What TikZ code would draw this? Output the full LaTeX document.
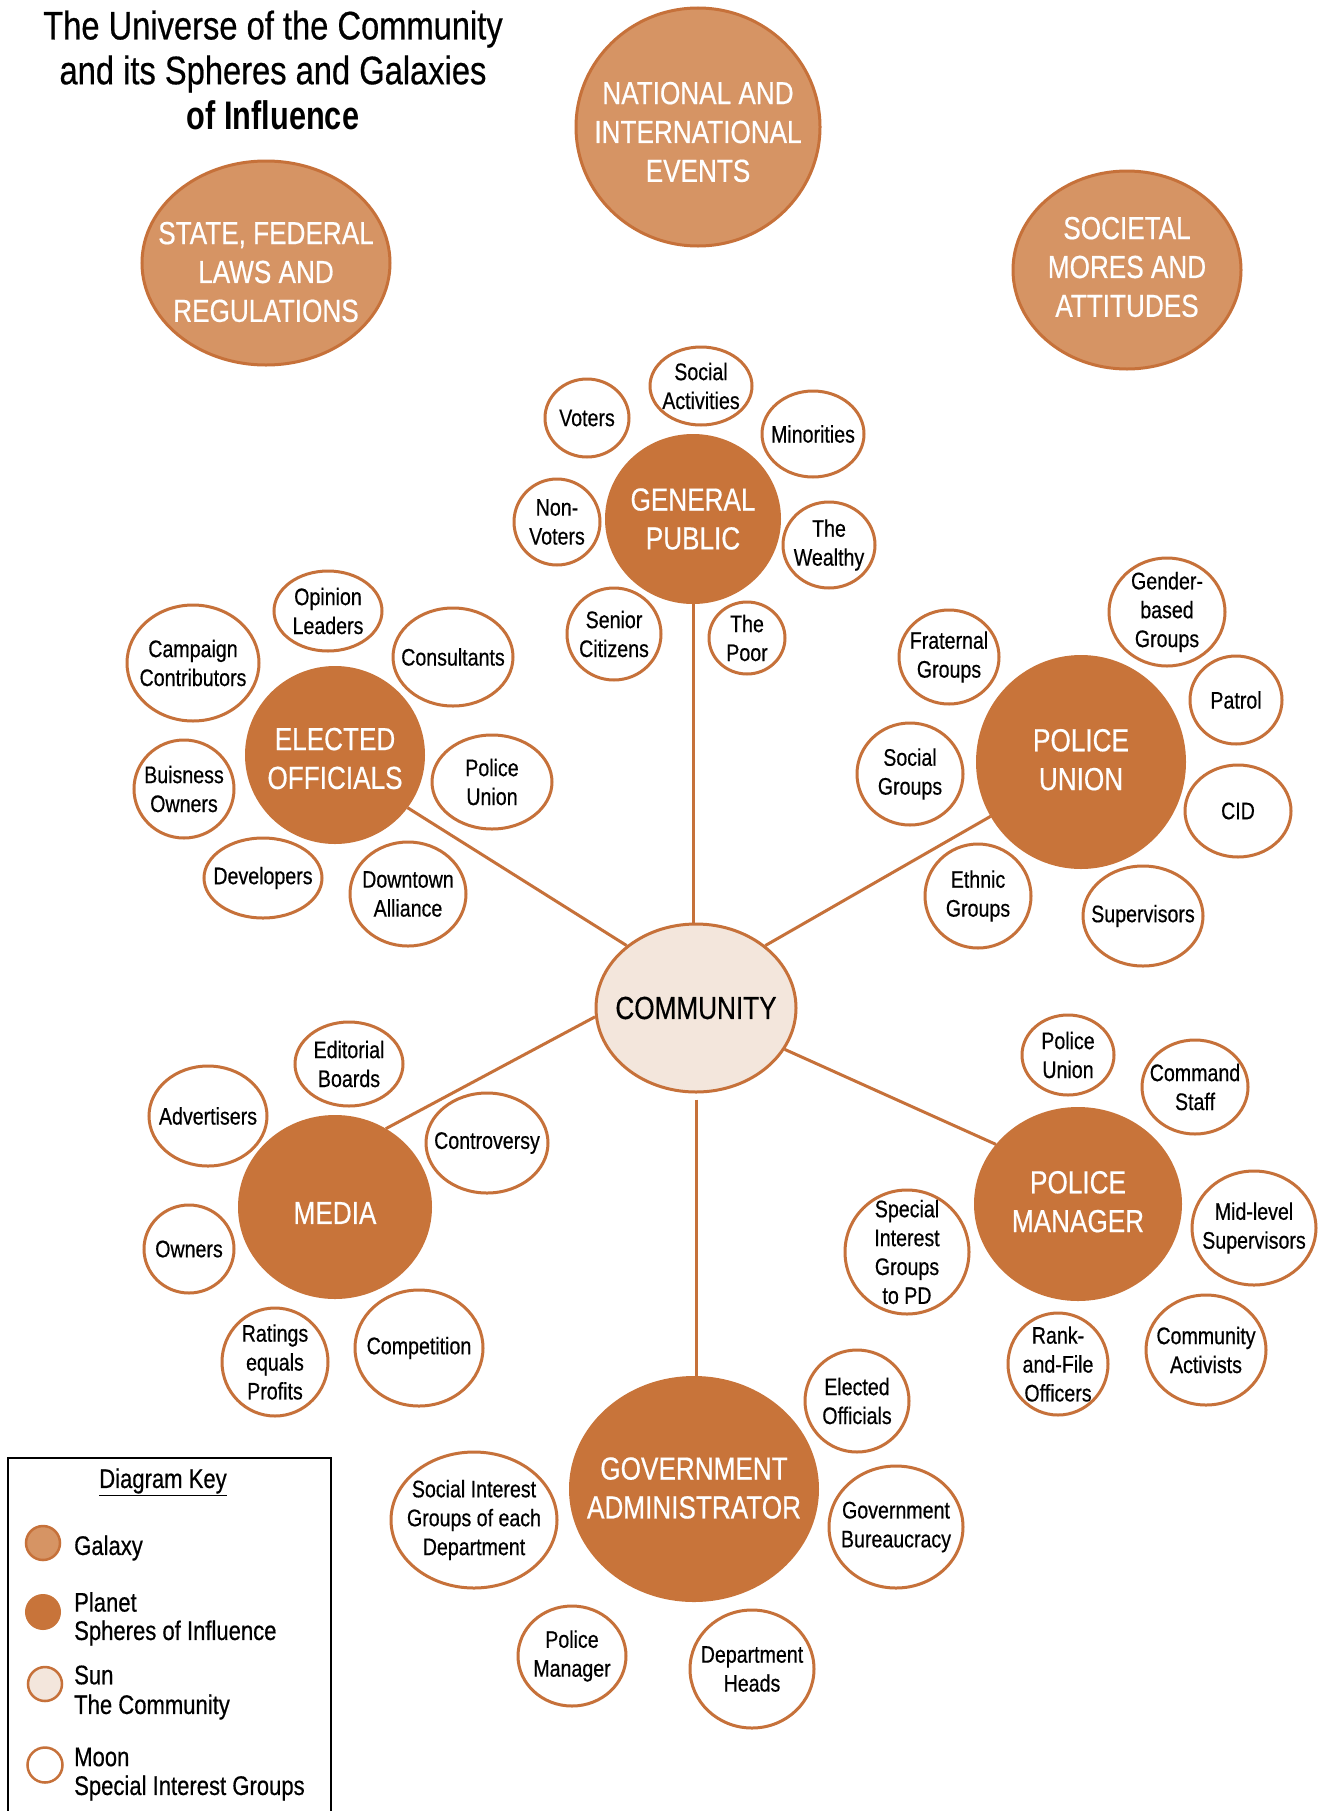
\documentclass[tikz,border=0pt]{standalone}
\usepackage{fontspec}
\setmainfont{Liberation Sans}[UprightFeatures={FakeStretch=0.82,FakeBold=0.5},BoldFeatures={FakeStretch=0.77}]
\usetikzlibrary{shapes.geometric}
\pgfdeclarelayer{bg}
\pgfsetlayers{bg,main}
\definecolor{planetc}{HTML}{C8743A}
\definecolor{galaxyc}{HTML}{D69464}
\definecolor{strokec}{HTML}{C6713A}
\definecolor{sunc}{HTML}{F3E6DC}
\newcommand{\mymoon}[6]{%
  \node[moonsty, minimum width=2*#4bp, minimum height=2*#5bp] (#1) at (#2,#3) {};
  \node[moontxt] at (#1) {#6};}
\newcommand{\myorb}[8][0]{%
  \node[#8, minimum width=2*#5bp, minimum height=2*#6bp] (#2) at (#3,#4) {};
  \node[#8txt, yshift=#1bp] at (#2) {#7};}
\begin{document}
\begin{tikzpicture}[x=1bp,y=-1bp,
  moonsty/.style={ellipse, draw=strokec, line width=3bp, fill=white, inner sep=0pt},
  moontxt/.style={align=center, font=\fontsize{24}{29}\selectfont, inner sep=0pt},
  planet/.style={ellipse, draw=planetc, line width=2bp, fill=planetc, inner sep=0pt},
  planettxt/.style={align=center, text=white, font=\fontsize{32}{39}\selectfont, inner sep=0pt},
  galaxy/.style={ellipse, draw=strokec, line width=3bp, fill=galaxyc, inner sep=0pt},
  galaxytxt/.style={align=center, text=white, font=\fontsize{32}{39}\selectfont, inner sep=0pt},
  sun/.style={ellipse, draw=strokec, line width=3bp, fill=sunc, inner sep=0pt},
  suntxt/.style={align=center, text=black, font=\fontsize{32}{38}\selectfont, inner sep=0pt},
  link/.style={draw=strokec, line width=3bp},
  keytxt/.style={anchor=west, font=\fontsize{27}{32}\selectfont, inner sep=0pt},
]
\useasboundingbox (0,0) rectangle (1319,1811);
\clip (0,0) rectangle (1319,1811);
\fill[white] (0,0) rectangle (1319,1811);

% title
\node[align=center, font=\fontsize{40}{45}\selectfont, inner sep=0pt] (title) at (273,70)
  {The Universe of the Community\\and its Spheres and Galaxies\\\textbf{of Influence}};

% galaxies
\myorb[-5]{nat}{698}{127}{122}{119}{NATIONAL AND\\INTERNATIONAL\\EVENTS}{galaxy}
\myorb[-9]{state}{266}{263}{124}{102}{STATE, FEDERAL\\LAWS AND\\REGULATIONS}{galaxy}
\myorb[3]{mores}{1127}{270}{114}{99}{SOCIETAL\\MORES AND\\ATTITUDES}{galaxy}

% sun
\myorb{comm}{696}{1008}{100}{84}{COMMUNITY}{sun}

% planets
\myorb{gp}{693}{519}{87}{84}{GENERAL\\PUBLIC}{planet}
\myorb[-3.5]{eo}{335}{755}{89}{88}{ELECTED\\OFFICIALS}{planet}
\myorb[2.3]{pu}{1081}{762}{104}{106}{POLICE\\UNION}{planet}
\myorb[-6]{media}{335}{1207}{96}{91}{MEDIA}{planet}
\myorb[2.3]{pm}{1078}{1204}{103}{96}{POLICE\\MANAGER}{planet}
\myorb[1]{ga}{694}{1489}{124}{112}{GOVERNMENT\\ADMINISTRATOR}{planet}

% moons: general public
\mymoon{voters}{587}{418}{42}{39}{Voters}
\mymoon{social}{701}{386}{51}{39}{Social\\Activities}
\mymoon{minor}{813}{434}{51}{43}{Minorities}
\mymoon{nonv}{557}{522}{43}{43}{Non-\\Voters}
\mymoon{wealthy}{829}{545}{46}{43}{The\\Wealthy}
\mymoon{senior}{614}{634}{47}{46}{Senior\\Citizens}
\mymoon{poor}{747}{638}{38}{36}{The\\Poor}

% moons: elected officials
\mymoon{opinion}{328}{611}{54}{40}{Opinion\\Leaders}
\mymoon{campaign}{193}{663}{66}{58}{Campaign\\Contributors}
\mymoon{consult}{453}{657}{60}{49}{Consultants}
\mymoon{buisness}{184}{789}{50}{49}{Buisness\\Owners}
\mymoon{eopu}{492}{782}{60}{47}{Police\\Union}
\mymoon{devel}{263}{878}{59}{40}{Developers}
\mymoon{downtown}{408}{894}{58}{52}{Downtown\\Alliance}

% moons: police union
\mymoon{gender}{1167}{612}{58}{54}{Gender-\\based\\Groups}
\mymoon{frat}{949}{657}{50}{47}{Fraternal\\Groups}
\mymoon{patrol}{1236}{700}{46}{44}{Patrol}
\mymoon{socgr}{910}{774}{53}{51}{Social\\Groups}
\mymoon{cid}{1238}{811}{53}{46}{CID}
\mymoon{ethnic}{978}{896}{53}{52}{Ethnic\\Groups}
\mymoon{superv}{1143}{916}{60}{50}{Supervisors}

% moons: media
\mymoon{editorial}{349}{1064}{54}{42}{Editorial\\Boards}
\mymoon{advert}{208}{1116}{59}{50}{Advertisers}
\mymoon{controv}{487}{1143}{61}{50}{Controversy}
\mymoon{owners}{189}{1249}{45}{44}{Owners}
\mymoon{ratings}{275}{1362}{53}{54}{Ratings\\equals\\Profits}
\mymoon{compet}{419}{1348}{64}{58}{Competition}

% moons: police manager
\mymoon{pmpu}{1068}{1055}{46}{40}{Police\\Union}
\mymoon{command}{1195}{1087}{53}{47}{Command\\Staff}
\mymoon{midlevel}{1254}{1228}{62}{57}{Mid-level\\Supervisors}
\mymoon{sigpd}{907}{1252}{62}{62}{Special\\Interest\\Groups\\to PD}
\mymoon{rank}{1058}{1364}{50}{51}{Rank-\\and-File\\Officers}
\mymoon{activists}{1206}{1350}{60}{55}{Community\\Activists}

% moons: government administrator
\mymoon{gaeo}{857}{1401}{52}{51}{Elected\\Officials}
\mymoon{sigdept}{474}{1520}{83}{68}{Social Interest\\Groups of each\\Department}
\mymoon{bureau}{896}{1527}{67}{61}{Government\\Bureaucracy}
\mymoon{gapm}{572}{1656}{54}{50}{Police\\Manager}
\mymoon{heads}{752}{1669}{62}{59}{Department\\Heads}

% connectors
\begin{pgfonlayer}{bg}
  \foreach \p/\m in {gp/voters,gp/social,gp/minor,gp/nonv,gp/wealthy,gp/senior,gp/poor,
    eo/opinion,eo/campaign,eo/consult,eo/buisness,eo/eopu,eo/devel,eo/downtown,
    pu/gender,pu/frat,pu/patrol,pu/socgr,pu/cid,pu/ethnic,pu/superv,
    media/editorial,media/advert,media/controv,media/owners,media/ratings,media/compet,
    pm/pmpu,pm/command,pm/midlevel,pm/sigpd,pm/rank,pm/activists,
    ga/gaeo,ga/sigdept,ga/bureau,ga/gapm,ga/heads}
    {\draw[link] (\p.center) -- (\m.center);}
\end{pgfonlayer}
\draw[link] (gp.south) -- (gp.south |- comm.north);
\draw[link] (eo.324) -- (comm.138);
\draw[link] (pu.211) -- (comm.42);
\draw[link] (media.57) -- (comm.185);
\draw[link] (pm.144) -- (comm.335);
\draw[link] ([yshift=-6bp]comm.south) -- (comm.south |- ga.north);

% legend
\draw[line width=2.5bp] (8,1458) rectangle (331,1840);
\node[font=\fontsize{27}{32}\selectfont, inner sep=0pt] (keyhead) at (163,1482) {\underline{Diagram Key}};
\node[galaxy, minimum size=34bp, line width=2.5bp] (kgal) at (43,1543) {};
\node[keytxt] (kgalt) at (74,1548) {Galaxy};
\node[planet, minimum size=34bp] (kpla) at (43,1612) {};
\node[keytxt] (kplat) at (74,1602) {Planet};
\node[keytxt] (kplat2) at (74,1633) {Spheres of Influence};
\node[sun, minimum size=34bp, line width=2.5bp] (ksun) at (45,1684) {};
\node[keytxt] (ksunt) at (74,1675) {Sun};
\node[keytxt] (ksunt2) at (74,1707) {The Community};
\node[moonsty, minimum size=35bp, line width=2.5bp] (kmoon) at (45,1765) {};
\node[keytxt] (kmoont) at (74,1757) {Moon};
\node[keytxt] (kmoont2) at (74,1788) {Special Interest Groups};
\end{tikzpicture}
\end{document}
